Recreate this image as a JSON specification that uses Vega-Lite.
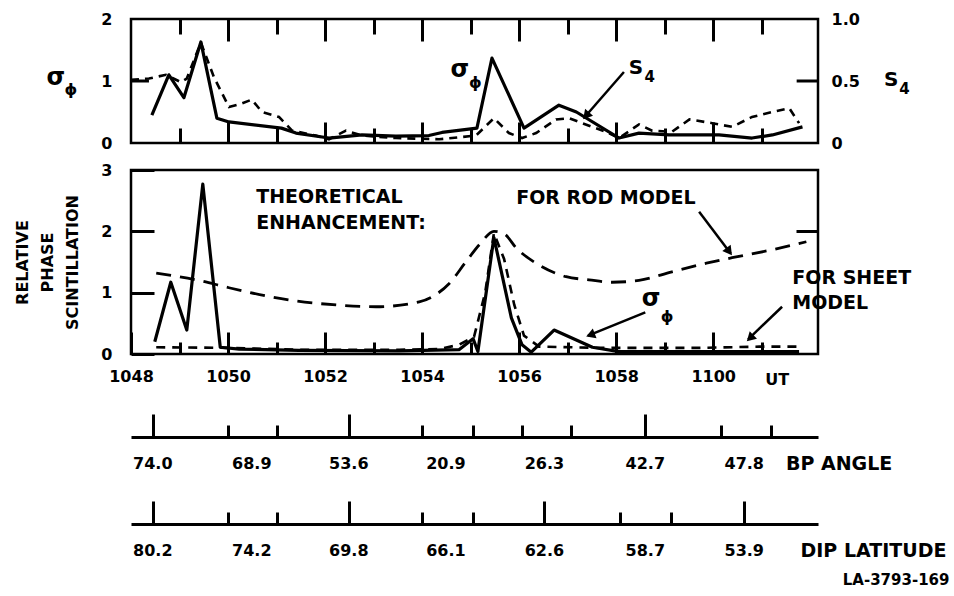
{
  "$schema": "https://vega.github.io/schema/vega-lite/v6.json",
  "background": "white",
  "padding": {"left": 14, "top": 11, "right": 0, "bottom": 0},
  "autosize": {"type": "pad"},
  "bounds": "flush",
  "spacing": 27,
  "config": {
    "font": "DejaVu Sans",
    "view": {"stroke": null},
    "axis": {
      "domain": false, "grid": false, "tickColor": "black", "tickWidth": 3,
      "gridColor": "black", "gridWidth": 3, "gridOpacity": 1,
      "labelFont": "DejaVu Sans", "labelFontWeight": "bold", "labelFontSize": 16, "labelColor": "black",
      "labelFlush": false, "labelOverlap": false, "labelBound": false,
      "titleFont": "DejaVu Sans", "titleFontWeight": "bold", "titleColor": "black"
    },
    "text": {"font": "DejaVu Sans", "fontWeight": "bold", "color": "black"}
  },
  "datasets": {
    "top_sigma": [
      {"t": 48.43, "v": 0.45}, {"t": 48.78, "v": 1.10}, {"t": 49.09, "v": 0.73}, {"t": 49.44, "v": 1.63},
      {"t": 49.77, "v": 0.40}, {"t": 50.02, "v": 0.34}, {"t": 51.10, "v": 0.24}, {"t": 51.40, "v": 0.16},
      {"t": 52.08, "v": 0.08}, {"t": 52.76, "v": 0.13}, {"t": 53.46, "v": 0.11}, {"t": 54.14, "v": 0.12},
      {"t": 54.41, "v": 0.17}, {"t": 55.13, "v": 0.24}, {"t": 55.44, "v": 1.37}, {"t": 56.10, "v": 0.24},
      {"t": 56.82, "v": 0.61}, {"t": 57.18, "v": 0.50}, {"t": 58.06, "v": 0.08}, {"t": 58.47, "v": 0.16},
      {"t": 59.09, "v": 0.13}, {"t": 60.12, "v": 0.13}, {"t": 60.80, "v": 0.08}, {"t": 61.22, "v": 0.13},
      {"t": 61.84, "v": 0.26}
    ],
    "top_s4": [
      {"t": 48.00, "s4": 0.51}, {"t": 48.37, "s4": 0.52}, {"t": 48.72, "s4": 0.55}, {"t": 49.03, "s4": 0.49},
      {"t": 49.15, "s4": 0.52}, {"t": 49.44, "s4": 0.81}, {"t": 49.71, "s4": 0.53}, {"t": 50.02, "s4": 0.29},
      {"t": 50.29, "s4": 0.32}, {"t": 50.49, "s4": 0.35}, {"t": 50.70, "s4": 0.25}, {"t": 51.05, "s4": 0.21},
      {"t": 51.32, "s4": 0.10}, {"t": 51.81, "s4": 0.06}, {"t": 52.08, "s4": 0.03}, {"t": 52.43, "s4": 0.10},
      {"t": 52.76, "s4": 0.06}, {"t": 53.46, "s4": 0.04}, {"t": 54.35, "s4": 0.03}, {"t": 55.11, "s4": 0.06},
      {"t": 55.48, "s4": 0.20}, {"t": 55.79, "s4": 0.08}, {"t": 56.06, "s4": 0.04}, {"t": 56.35, "s4": 0.08},
      {"t": 56.76, "s4": 0.19}, {"t": 57.03, "s4": 0.20}, {"t": 57.30, "s4": 0.16}, {"t": 57.79, "s4": 0.09},
      {"t": 58.06, "s4": 0.04}, {"t": 58.47, "s4": 0.15}, {"t": 58.74, "s4": 0.10}, {"t": 59.15, "s4": 0.09},
      {"t": 59.51, "s4": 0.19}, {"t": 59.98, "s4": 0.16}, {"t": 60.39, "s4": 0.13}, {"t": 60.80, "s4": 0.21},
      {"t": 61.22, "s4": 0.25}, {"t": 61.57, "s4": 0.28}, {"t": 61.77, "s4": 0.16}
    ],
    "bottom_sigma": [
      {"t": 48.49, "v": 0.20}, {"t": 48.82, "v": 1.17}, {"t": 49.15, "v": 0.39}, {"t": 49.48, "v": 2.77},
      {"t": 49.84, "v": 0.11}, {"t": 50.23, "v": 0.08}, {"t": 51.46, "v": 0.06}, {"t": 53.53, "v": 0.05},
      {"t": 54.76, "v": 0.07}, {"t": 55.05, "v": 0.25}, {"t": 55.15, "v": 0.04}, {"t": 55.48, "v": 1.90},
      {"t": 55.84, "v": 0.59}, {"t": 56.06, "v": 0.15}, {"t": 56.25, "v": 0.03}, {"t": 56.72, "v": 0.39},
      {"t": 57.51, "v": 0.11}, {"t": 58.06, "v": 0.04}, {"t": 59.71, "v": 0.04}, {"t": 61.77, "v": 0.04}
    ],
    "rod": [
      {"t": 48.52, "v": 1.32}, {"t": 49.40, "v": 1.20}, {"t": 50.02, "v": 1.08}, {"t": 51.26, "v": 0.88},
      {"t": 52.23, "v": 0.80}, {"t": 53.05, "v": 0.77}, {"t": 53.94, "v": 0.85}, {"t": 54.20, "v": 0.93},
      {"t": 54.56, "v": 1.15}, {"t": 54.90, "v": 1.50}, {"t": 55.20, "v": 1.80}, {"t": 55.48, "v": 2.00},
      {"t": 55.69, "v": 1.96}, {"t": 55.94, "v": 1.73}, {"t": 56.41, "v": 1.45}, {"t": 56.97, "v": 1.26},
      {"t": 57.44, "v": 1.21}, {"t": 57.92, "v": 1.17}, {"t": 58.47, "v": 1.20}, {"t": 59.15, "v": 1.34},
      {"t": 59.86, "v": 1.48}, {"t": 60.39, "v": 1.57}, {"t": 61.22, "v": 1.70}, {"t": 61.92, "v": 1.83}
    ],
    "sheet": [
      {"t": 48.52, "v": 0.11}, {"t": 50.02, "v": 0.10}, {"t": 51.46, "v": 0.07}, {"t": 53.53, "v": 0.07},
      {"t": 54.35, "v": 0.08}, {"t": 54.76, "v": 0.15}, {"t": 55.07, "v": 0.28}, {"t": 55.30, "v": 1.00},
      {"t": 55.48, "v": 1.97}, {"t": 55.69, "v": 1.55}, {"t": 55.90, "v": 0.80}, {"t": 56.10, "v": 0.30},
      {"t": 56.41, "v": 0.12}, {"t": 57.65, "v": 0.10}, {"t": 59.71, "v": 0.10}, {"t": 60.95, "v": 0.12},
      {"t": 61.77, "v": 0.12}
    ],
    "angles": [
      {"t": 48.45, "bp": "74.0", "dip": "80.2"},
      {"t": 50.49, "bp": "68.9", "dip": "74.2"},
      {"t": 52.49, "bp": "53.6", "dip": "69.8"},
      {"t": 54.49, "bp": "20.9", "dip": "66.1"},
      {"t": 56.52, "bp": "26.3", "dip": "62.6"},
      {"t": 58.60, "bp": "42.7", "dip": "58.7"},
      {"t": 60.64, "bp": "47.8", "dip": "53.9"}
    ]
  },
  "vconcat": [
    {
      "width": 687,
      "height": 124,
      "resolve": {"scale": {"y": "independent"}, "axis": {"y": "independent"}},
      "layer": [
        {
          "data": {"values": [{}]},
          "mark": {"type": "rect", "fill": null, "fillOpacity": 0, "stroke": "black", "strokeWidth": 2.5},
          "encoding": {
            "x": {"datum": 48, "type": "quantitative"}, "x2": {"datum": 62.16},
            "y": {"datum": 0, "type": "quantitative", "scale": {"domain": [0, 2], "nice": false}, "axis": null}, "y2": {"datum": 2}
          }
        },
        {
          "data": {"name": "top_sigma"},
          "mark": {"type": "line", "stroke": "black", "strokeWidth": 3.2, "strokeJoin": "round"},
          "encoding": {
            "x": {"field": "t", "type": "quantitative", "scale": {"domain": [48, 62.16], "nice": false, "zero": false},
              "axis": {"orient": "bottom", "values": [49, 50, 51, 52, 53, 54, 55, 56, 57, 58, 59, 60, 61], "labelExpr": "''", "ticks": false, "title": null,
                "grid": true, "zindex": 1,
                "gridDash": {"condition": {"test": "datum.value % 2 == 0", "value": [22, 81, 21, 200]}, "value": [15, 94, 15, 200]}}},
            "y": {"field": "v", "type": "quantitative", "scale": {"domain": [0, 2], "nice": false},
              "axis": {"orient": "left", "values": [0, 1, 2], "labelExpr": "format(datum.value, 'd')", "ticks": false, "labelPadding": 19, "title": null}}
          }
        },
        {
          "data": {"name": "top_s4"},
          "mark": {"type": "line", "stroke": "black", "strokeWidth": 2.6, "strokeDash": [8, 6]},
          "encoding": {
            "x": {"field": "t", "type": "quantitative"},
            "y": {"field": "s4", "type": "quantitative", "scale": {"domain": [0, 1], "nice": false},
              "axis": {"orient": "right", "values": [0, 0.5, 1], "ticks": false, "labelPadding": 13, "title": null,
                "labelExpr": "datum.value == 0 ? '0' : format(datum.value, '.1f')"}}
          }
        },
        {
          "data": {"values": [{}]},
          "mark": {"type": "rule", "stroke": "black", "strokeWidth": 3},
          "encoding": {
            "x": {"datum": 61.72, "type": "quantitative"}, "x2": {"datum": 62.16},
            "y": {"datum": 0.5, "type": "quantitative", "scale": {"domain": [0, 1], "nice": false}, "axis": null}
          }
        },
        {
          "data": {"values": [{}]},
          "mark": {"type": "rule", "stroke": "black", "strokeWidth": 3},
          "encoding": {
            "x": {"datum": 48, "type": "quantitative"}, "x2": {"datum": 48.37},
            "y": {"datum": 0.5, "type": "quantitative", "scale": {"domain": [0, 1], "nice": false}, "axis": null}
          }
        },
        {
          "data": {"values": [{}]},
          "mark": {"type": "text", "fontSize": 24, "align": "center", "baseline": "middle"},
          "encoding": {"x": {"datum": 46.45, "type": "quantitative"}, "y": {"datum": 1.05, "type": "quantitative", "scale": {"domain": [0, 2], "nice": false}, "axis": null}, "text": {"value": "σ"}}
        },
        {
          "data": {"values": [{}]},
          "mark": {"type": "text", "fontSize": 16, "align": "center", "baseline": "middle"},
          "encoding": {"x": {"datum": 46.76, "type": "quantitative"}, "y": {"datum": 0.85, "type": "quantitative", "scale": {"domain": [0, 2], "nice": false}, "axis": null}, "text": {"value": "ϕ"}}
        },
        {
          "data": {"values": [{}]},
          "mark": {"type": "text", "fontSize": 24, "align": "center", "baseline": "middle"},
          "encoding": {"x": {"datum": 54.78, "type": "quantitative"}, "y": {"datum": 1.17, "type": "quantitative", "scale": {"domain": [0, 2], "nice": false}, "axis": null}, "text": {"value": "σ"}}
        },
        {
          "data": {"values": [{}]},
          "mark": {"type": "text", "fontSize": 16, "align": "center", "baseline": "middle"},
          "encoding": {"x": {"datum": 55.1, "type": "quantitative"}, "y": {"datum": 0.97, "type": "quantitative", "scale": {"domain": [0, 2], "nice": false}, "axis": null}, "text": {"value": "ϕ"}}
        },
        {
          "data": {"values": [{}]},
          "mark": {"type": "text", "fontSize": 20, "align": "center", "baseline": "middle"},
          "encoding": {"x": {"datum": 58.41, "type": "quantitative"}, "y": {"datum": 1.21, "type": "quantitative", "scale": {"domain": [0, 2], "nice": false}, "axis": null}, "text": {"value": "S"}}
        },
        {
          "data": {"values": [{}]},
          "mark": {"type": "text", "fontSize": 15, "align": "center", "baseline": "middle"},
          "encoding": {"x": {"datum": 58.69, "type": "quantitative"}, "y": {"datum": 1.06, "type": "quantitative", "scale": {"domain": [0, 2], "nice": false}, "axis": null}, "text": {"value": "4"}}
        },
        {
          "data": {"values": [{}]},
          "mark": {"type": "text", "fontSize": 20, "align": "center", "baseline": "middle"},
          "encoding": {"x": {"datum": 63.67, "type": "quantitative"}, "y": {"datum": 1.02, "type": "quantitative", "scale": {"domain": [0, 2], "nice": false}, "axis": null}, "text": {"value": "S"}}
        },
        {
          "data": {"values": [{}]},
          "mark": {"type": "text", "fontSize": 15, "align": "center", "baseline": "middle"},
          "encoding": {"x": {"datum": 63.94, "type": "quantitative"}, "y": {"datum": 0.87, "type": "quantitative", "scale": {"domain": [0, 2], "nice": false}, "axis": null}, "text": {"value": "4"}}
        },
        {
          "data": {"values": [{}]},
          "mark": {"type": "rule", "stroke": "black", "strokeWidth": 2.5},
          "encoding": {
            "x": {"datum": 58.16, "type": "quantitative"},
            "y": {"datum": 1.145, "type": "quantitative", "scale": {"domain": [0, 2], "nice": false}, "axis": null},
            "x2": {"datum": 57.33}, "y2": {"datum": 0.40}
          }
        },
        {
          "data": {"values": [{}]},
          "mark": {"type": "point", "shape": "triangle-up", "filled": true, "fill": "black", "opacity": 1, "size": 110, "angle": 221},
          "encoding": {"x": {"datum": 57.38, "type": "quantitative"}, "y": {"datum": 0.44, "type": "quantitative", "scale": {"domain": [0, 2], "nice": false}, "axis": null}}
        }
      ]
    },
    {
      "width": 687,
      "height": 184,
      "layer": [
        {
          "data": {"values": [{}]},
          "mark": {"type": "rect", "fill": null, "fillOpacity": 0, "stroke": "black", "strokeWidth": 2.5},
          "encoding": {
            "x": {"datum": 48, "type": "quantitative"}, "x2": {"datum": 62.16},
            "y": {"datum": 0, "type": "quantitative"}, "y2": {"datum": 3}
          }
        },
        {
          "data": {"name": "bottom_sigma"},
          "mark": {"type": "line", "stroke": "black", "strokeWidth": 3.2, "strokeJoin": "round"},
          "encoding": {
            "x": {"field": "t", "type": "quantitative", "scale": {"domain": [48, 62.16], "nice": false, "zero": false},
              "axis": {"orient": "bottom", "values": [48, 49, 50, 51, 52, 53, 54, 55, 56, 57, 58, 59, 60, 61], "title": null, "zindex": 1,
                "tickSize": {"condition": {"test": "datum.value % 2 == 0", "value": -22}, "value": -12},
                "labelPadding": 36,
                "labelExpr": "datum.value % 2 != 0 ? '' : (datum.value < 60 ? '10' + datum.value : '11' + (datum.value < 70 ? '0' : '') + (datum.value - 60))"}},
            "y": {"field": "v", "type": "quantitative", "scale": {"domain": [0, 3], "nice": false},
              "axis": {"orient": "left", "values": [0, 1, 2, 3], "labelExpr": "format(datum.value, 'd')", "ticks": false, "labelPadding": 19, "zindex": 1,
                "grid": true, "gridDash": {"condition": {"test": "datum.value == 2", "value": [23, 642, 22, 200]}, "value": [23, 2000]},
                "title": ["RELATIVE", "PHASE", "SCINTILLATION"], "titleFontSize": 16, "titleLineHeight": 25, "titlePadding": 20}}
          }
        },
        {
          "data": {"name": "rod"},
          "mark": {"type": "line", "stroke": "black", "strokeWidth": 2.8, "strokeDash": [15, 9], "interpolate": "monotone"},
          "encoding": {
            "x": {"field": "t", "type": "quantitative"},
            "y": {"field": "v", "type": "quantitative"}
          }
        },
        {
          "data": {"name": "sheet"},
          "mark": {"type": "line", "stroke": "black", "strokeWidth": 2.6, "strokeDash": [9, 7]},
          "encoding": {
            "x": {"field": "t", "type": "quantitative"},
            "y": {"field": "v", "type": "quantitative"}
          }
        },
        {
          "data": {"values": [{}]},
          "mark": {"type": "text", "fontSize": 19, "align": "left", "baseline": "middle"},
          "encoding": {"x": {"datum": 50.58, "type": "quantitative"}, "y": {"datum": 2.56, "type": "quantitative"}, "text": {"value": "THEORETICAL"}}
        },
        {
          "data": {"values": [{}]},
          "mark": {"type": "text", "fontSize": 19, "align": "left", "baseline": "middle"},
          "encoding": {"x": {"datum": 50.58, "type": "quantitative"}, "y": {"datum": 2.14, "type": "quantitative"}, "text": {"value": "ENHANCEMENT:"}}
        },
        {
          "data": {"values": [{}]},
          "mark": {"type": "text", "fontSize": 19, "align": "left", "baseline": "middle"},
          "encoding": {"x": {"datum": 55.94, "type": "quantitative"}, "y": {"datum": 2.54, "type": "quantitative"}, "text": {"value": "FOR ROD MODEL"}}
        },
        {
          "data": {"values": [{}]},
          "mark": {"type": "text", "fontSize": 19, "align": "left", "baseline": "middle"},
          "encoding": {"x": {"datum": 61.63, "type": "quantitative"}, "y": {"datum": 1.24, "type": "quantitative"}, "text": {"value": "FOR SHEET"}}
        },
        {
          "data": {"values": [{}]},
          "mark": {"type": "text", "fontSize": 19, "align": "left", "baseline": "middle"},
          "encoding": {"x": {"datum": 61.63, "type": "quantitative"}, "y": {"datum": 0.83, "type": "quantitative"}, "text": {"value": "MODEL"}}
        },
        {
          "data": {"values": [{}]},
          "mark": {"type": "text", "fontSize": 24, "align": "center", "baseline": "middle"},
          "encoding": {"x": {"datum": 58.72, "type": "quantitative"}, "y": {"datum": 0.9, "type": "quantitative"}, "text": {"value": "σ"}}
        },
        {
          "data": {"values": [{}]},
          "mark": {"type": "text", "fontSize": 16, "align": "center", "baseline": "middle"},
          "encoding": {"x": {"datum": 59.05, "type": "quantitative"}, "y": {"datum": 0.6, "type": "quantitative"}, "text": {"value": "ϕ"}}
        },
        {
          "data": {"values": [{}]},
          "mark": {"type": "text", "fontSize": 16, "align": "center", "baseline": "middle"},
          "encoding": {"x": {"datum": 61.32, "type": "quantitative"}, "y": {"datum": -0.42, "type": "quantitative"}, "text": {"value": "UT"}}
        },
        {
          "data": {"values": [{}]},
          "mark": {"type": "rule", "stroke": "black", "strokeWidth": 2.5},
          "encoding": {"x": {"datum": 59.71, "type": "quantitative"}, "y": {"datum": 2.32, "type": "quantitative"}, "x2": {"datum": 60.36}, "y2": {"datum": 1.64}}
        },
        {
          "data": {"values": [{}]},
          "mark": {"type": "point", "shape": "triangle-up", "filled": true, "fill": "black", "opacity": 1, "size": 110, "angle": 143},
          "encoding": {"x": {"datum": 60.33, "type": "quantitative"}, "y": {"datum": 1.67, "type": "quantitative"}}
        },
        {
          "data": {"values": [{}]},
          "mark": {"type": "rule", "stroke": "black", "strokeWidth": 2.5},
          "encoding": {"x": {"datum": 61.42, "type": "quantitative"}, "y": {"datum": 0.77, "type": "quantitative"}, "x2": {"datum": 60.72}, "y2": {"datum": 0.24}}
        },
        {
          "data": {"values": [{}]},
          "mark": {"type": "point", "shape": "triangle-up", "filled": true, "fill": "black", "opacity": 1, "size": 110, "angle": 226},
          "encoding": {"x": {"datum": 60.76, "type": "quantitative"}, "y": {"datum": 0.26, "type": "quantitative"}}
        },
        {
          "data": {"values": [{}]},
          "mark": {"type": "rule", "stroke": "black", "strokeWidth": 2.5},
          "encoding": {"x": {"datum": 58.6, "type": "quantitative"}, "y": {"datum": 0.68, "type": "quantitative"}, "x2": {"datum": 57.42}, "y2": {"datum": 0.30}}
        },
        {
          "data": {"values": [{}]},
          "mark": {"type": "point", "shape": "triangle-up", "filled": true, "fill": "black", "opacity": 1, "size": 110, "angle": 249},
          "encoding": {"x": {"datum": 57.47, "type": "quantitative"}, "y": {"datum": 0.31, "type": "quantitative"}}
        }
      ]
    },
    {
      "width": 687,
      "height": 56,
      "layer": [
        {
          "data": {"name": "angles"},
          "mark": {"type": "text", "fontSize": 16, "align": "center", "baseline": "middle"},
          "encoding": {
            "x": {"field": "t", "type": "quantitative", "scale": {"domain": [48, 62.16], "nice": false, "zero": false},
              "axis": {"orient": "bottom", "labelExpr": "''", "title": null, "domain": true, "domainColor": "black", "domainWidth": 3,
                "values": [48.45, 48.99, 50.0, 50.49, 51.01, 52.02, 52.49, 53.01, 54.0, 54.49, 55.05, 55.86, 56.06, 56.52, 57.07, 58.08, 58.6, 59.13, 60.16, 60.64, 61.2],
                "tickSize": {"condition": {"test": "datum.value % 1 > 0.3 && datum.value % 1 < 0.7", "value": -23}, "value": -12}}},
            "y": {"datum": -0.48, "type": "quantitative", "scale": {"domain": [0, 1], "nice": false}, "axis": null},
            "text": {"field": "bp"}
          }
        },
        {
          "data": {"values": [{}]},
          "mark": {"type": "text", "fontSize": 19, "align": "left", "baseline": "middle"},
          "encoding": {"x": {"datum": 61.5, "type": "quantitative"}, "y": {"datum": -0.48, "type": "quantitative", "axis": null}, "text": {"value": "BP ANGLE"}}
        }
      ]
    },
    {
      "width": 687,
      "height": 60,
      "layer": [
        {
          "data": {"name": "angles"},
          "mark": {"type": "text", "fontSize": 16, "align": "center", "baseline": "middle"},
          "encoding": {
            "x": {"field": "t", "type": "quantitative", "scale": {"domain": [48, 62.16], "nice": false, "zero": false},
              "axis": {"orient": "bottom", "labelExpr": "''", "title": null, "domain": true, "domainColor": "black", "domainWidth": 3,
                "values": [48.45, 48.99, 50.0, 50.49, 51.01, 52.02, 52.49, 53.01, 54.0, 54.49, 55.05, 56.06, 56.52, 57.07, 58.08, 58.6, 59.13, 60.16, 60.64, 61.2],
                "tickSize": {"condition": {"test": "datum.value % 1 > 0.3 && datum.value % 1 < 0.7", "value": -23}, "value": -12}}},
            "y": {"datum": -0.45, "type": "quantitative", "scale": {"domain": [0, 1], "nice": false}, "axis": null},
            "text": {"field": "dip"}
          }
        },
        {
          "data": {"values": [{}]},
          "mark": {"type": "text", "fontSize": 19, "align": "left", "baseline": "middle"},
          "encoding": {"x": {"datum": 61.8, "type": "quantitative"}, "y": {"datum": -0.45, "type": "quantitative", "axis": null}, "text": {"value": "DIP LATITUDE"}}
        },
        {
          "data": {"values": [{}]},
          "mark": {"type": "text", "fontSize": 15, "align": "right", "baseline": "middle"},
          "encoding": {"x": {"datum": 64.87, "type": "quantitative"}, "y": {"datum": -0.93, "type": "quantitative", "axis": null}, "text": {"value": "LA-3793-169"}}
        }
      ]
    }
  ]
}
